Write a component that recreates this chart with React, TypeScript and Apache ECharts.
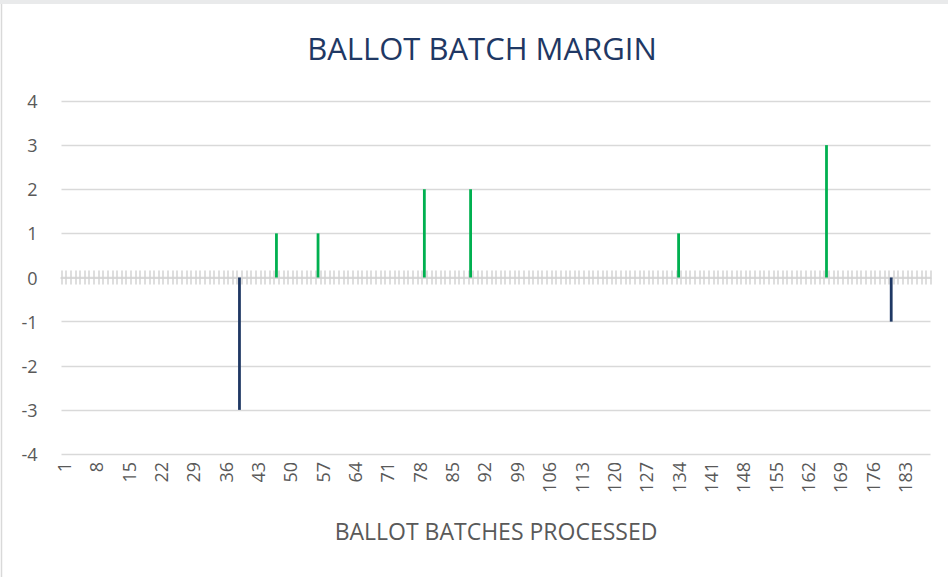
import React, { useEffect, useRef } from "react";
import * as echarts from "echarts";

// Number of ballot batches on the category axis
const BATCH_COUNT = 188;
// Batches that had a non-zero margin, and that margin
const marginBatches = [39, 47, 56, 79, 89, 134, 166, 180];
const marginValues = [-3, 1, 1, 2, 2, 1, 3, -1];
// Value axis ticks
const yTicks = [-4, -3, -2, -1, 0, 1, 2, 3, 4];

const categories: string[] = Array.from({ length: BATCH_COUNT }, (_, i) => String(i + 1));

const GREEN = "#00B050";
const NAVY = "#1F3864";
const GRID = "#D9D9D9";
const TICK = "#D3D3D3";
const TEXT = "#595959";
const FONT = "'Open Sans', 'Noto Sans', sans-serif";

export default function App() {
  const ref = useRef<HTMLDivElement>(null);

  useEffect(() => {
    if (!ref.current) return;
    const chart = echarts.init(ref.current, undefined, { renderer: "svg" });

    const valueByBatch: Record<string, number> = {};
    marginBatches.forEach((b, i) => {
      valueByBatch[String(b)] = marginValues[i];
    });
    const data = categories.map((c) => (c in valueByBatch ? valueByBatch[c] : 0));

    const baseCat = {
      type: "category" as const,
      data: categories,
      gridIndex: 0,
      boundaryGap: true,
      splitLine: { show: false },
    };

    chart.setOption({
      animation: false,
      backgroundColor: "#ffffff",
      textStyle: { fontFamily: FONT },
      title: {
        text: "BALLOT BATCH MARGIN",
        left: 477,
        textAlign: "center",
        top: 27,
        textStyle: { color: NAVY, fontSize: 31, fontWeight: "normal", fontFamily: FONT },
      },
      graphic: [
        { type: "rect", shape: { x: 0, y: 0, width: 948, height: 4 }, style: { fill: "#E9EAEB" }, silent: true },
        { type: "line", shape: { x1: 1.5, y1: 4, x2: 1.5, y2: 577 }, style: { stroke: GRID, lineWidth: 1.5 }, silent: true },
      ],
      grid: { left: 61.5, right: 17.5, top: 101, bottom: 123, containLabel: false },
      xAxis: [
        {
          ...baseCat,
          position: "bottom",
          axisLine: { show: false, onZero: false },
          axisTick: { show: false },
          axisLabel: {
            interval: 6,
            rotate: 90,
            color: TEXT,
            fontSize: 18,
            margin: 8,
            fontFamily: FONT,
          },
          name: "BALLOT BATCHES PROCESSED",
          nameLocation: "middle",
          nameGap: 65,
          nameTextStyle: { color: TEXT, fontSize: 23, fontFamily: FONT, verticalAlign: "top" },
        },
        {
          ...baseCat,
          position: "bottom",
          axisLine: { show: true, onZero: true, onZeroAxisIndex: 0, lineStyle: { color: GRID, width: 2 } },
          axisTick: { show: true, interval: 0, length: 7, inside: false, lineStyle: { color: TICK, width: 1.5 } },
          axisLabel: { show: false },
        },
        {
          ...baseCat,
          position: "bottom",
          axisLine: { show: true, onZero: true, onZeroAxisIndex: 0, lineStyle: { color: GRID, width: 2 } },
          axisTick: { show: true, interval: 0, length: 7, inside: true, lineStyle: { color: TICK, width: 1.5 } },
          axisLabel: { show: false },
        },
      ],
      yAxis: {
        type: "value",
        min: yTicks[0],
        max: yTicks[yTicks.length - 1],
        interval: 1,
        axisLine: { show: false },
        axisTick: { show: false },
        axisLabel: { color: TEXT, fontSize: 18, margin: 24, fontFamily: FONT },
        splitLine: { lineStyle: { color: GRID, width: 1.3 } },
      },
      series: [
        {
          type: "bar",
          xAxisIndex: 0,
          yAxisIndex: 0,
          data,
          barWidth: 2.8,
          itemStyle: {
            color: (p: any) => (p.value < 0 ? NAVY : GREEN),
          },
          z: 1,
        },
      ],
    });

    return () => chart.dispose();
  }, []);

  return (
    <div
      ref={ref}
      style={{ position: "fixed", left: 0, top: 0, width: 948, height: 577, background: "#fff" }}
    />
  );
}
